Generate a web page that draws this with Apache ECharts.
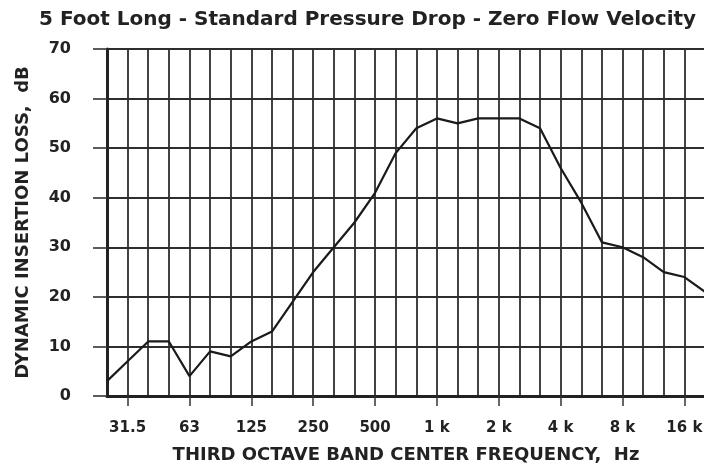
<!DOCTYPE html>
<html><head><meta charset="utf-8">
<script src="https://cdn.jsdelivr.net/npm/echarts@6/dist/echarts.min.js"></script>
<style>html,body{margin:0;padding:0;background:#fff}#c{width:704px;height:468px}</style>
</head><body><div id="c"></div>
<script>
const titleText = '5 Foot Long - Standard Pressure Drop - Zero Flow Velocity';
const bands = ['25','31.5','40','50','63','80','100','125','160','200','250','315','400','500','630','800','1k','1.25k','1.6k','2k','2.5k','3.15k','4k','5k','6.3k','8k','10k','12.5k','16k','20k'];
const tickLabels = {1:'31.5',4:'63',7:'125',10:'250',13:'500',16:'1 k',19:'2 k',22:'4 k',25:'8 k',28:'16 k'};
const insertionLoss = [3,7,11,11,4,9,8,11,13,19,25,30,35,41,49,54,56,55,56,56,56,54,46,39,31,30,28,25,24,21];
const yTicks = [0,10,20,30,40,50,60,70];

const font = 'DejaVu Sans';
const chart = echarts.init(document.getElementById('c'));
chart.setOption({
  animation:false,
  title:{text:titleText,left:34,top:5,textStyle:{fontFamily:font,fontWeight:'bold',fontSize:20,color:'#222'}},
  grid:{left:107,top:49,right:-1,bottom:72,show:true,borderColor:'#222',borderWidth:2,outerBoundsMode:'none',containLabel:false},
  xAxis:{type:'category',data:bands,boundaryGap:false,
    name:'THIRD OCTAVE BAND CENTER FREQUENCY,  Hz',nameLocation:'middle',nameGap:50,
    nameTextStyle:{fontFamily:font,fontWeight:'bold',fontSize:18,color:'#222'},
    axisLine:{lineStyle:{color:'#222',width:3}},
    axisTick:{show:true,length:10,interval:(i)=>i%3===1,lineStyle:{color:'#333',width:1.5}},
    axisLabel:{interval:(i)=>i%3===1,formatter:(v,i)=>tickLabels[i]||'',margin:25,fontFamily:font,fontWeight:'bold',fontSize:15,color:'#222'},
    splitLine:{show:true,interval:0,lineStyle:{color:'#2e2e2e',width:1.8}}
  },
  yAxis:{type:'value',min:yTicks[0],max:yTicks[yTicks.length-1],interval:10,
    name:'DYNAMIC INSERTION LOSS,  dB',nameLocation:'middle',nameGap:75,
    nameTextStyle:{fontFamily:font,fontWeight:'bold',fontSize:18,color:'#222'},
    axisLine:{show:true,lineStyle:{color:'#222',width:3}},
    axisTick:{show:true,length:14,lineStyle:{color:'#333',width:1.6}},
    axisLabel:{margin:36,fontFamily:font,fontWeight:'bold',fontSize:16,color:'#222'},
    splitLine:{show:true,lineStyle:{color:'#2e2e2e',width:1.8}}
  },
  series:[{type:'line',data:insertionLoss,symbol:'none',lineStyle:{color:'#1a1a1a',width:2.2},z:5}]
});
</script></body></html>
